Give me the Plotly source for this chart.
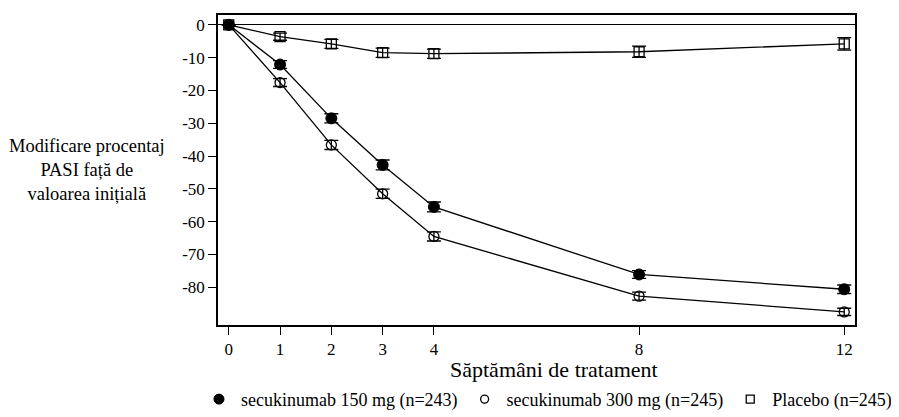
import plotly.graph_objects as go

weeks = [0, 1, 2, 3, 4, 8, 12]

sec150 = [0, -12.1, -28.5, -42.7, -55.5, -76.1, -80.6]
sec150_err = [0, 1.2, 1.4, 1.5, 1.5, 1.2, 1.3]

sec300 = [0, -17.6, -36.6, -51.5, -64.5, -82.7, -87.5]
sec300_err = [0, 1.2, 1.4, 1.4, 1.4, 1.2, 1.1]

placebo = [0, -3.6, -5.8, -8.5, -8.8, -8.2, -5.8]
placebo_err = [0, 1.1, 1.4, 1.4, 1.4, 1.7, 1.9]

names = ['secukinumab 150 mg (n=243)', 'secukinumab 300 mg (n=245)', 'Placebo (n=245)']

y_ticks = [0, -10, -20, -30, -40, -50, -60, -70, -80]
y_labels = ['0', '-10', '-20', '-30', '-40', '-50', '-60', '-70', '-80']

FONT = 'Liberation Serif, Times New Roman, serif'

series = [
    (sec150, sec150_err, dict(symbol='circle', size=11, color='black',
                              line=dict(color='black', width=1))),
    (sec300, sec300_err, dict(symbol='circle-open', size=10, color='black',
                              line=dict(color='black', width=1.3))),
    (placebo, placebo_err, dict(symbol='square-open', size=10, color='black',
                                line=dict(color='black', width=1.3))),
]

fig = go.Figure()

for vals, err, mk in series:
    fig.add_trace(go.Scatter(
        x=weeks, y=vals, mode='lines+markers',
        line=dict(color='black', width=1.3),
        marker=mk,
        error_y=dict(type='data', array=err, color='black', thickness=1.3, width=7),
        showlegend=False, hoverinfo='x+y'))

# legend-only entries (markers without lines)
for name, (vals, err, mk) in zip(names, series):
    fig.add_trace(go.Scatter(
        x=[None], y=[None], mode='markers', name=name,
        marker=dict(mk, size=10 if mk['symbol'] == 'circle' else 8)))

fig.update_xaxes(
    range=[-0.21, 12.21], tickvals=weeks, ticks='outside', ticklen=8,
    tickcolor='black', showline=True, linecolor='black', linewidth=1.5,
    mirror=True, showgrid=False, zeroline=False, automargin=False,
    tickfont=dict(family=FONT, size=17, color='black'))

fig.update_yaxes(
    range=[-91.5, 3.0], tickvals=y_ticks, ticktext=y_labels, ticks='outside',
    ticklen=8, tickcolor='black', showline=True, linecolor='black', linewidth=1.5,
    mirror=True, showgrid=False, zeroline=True, zerolinecolor='black', zerolinewidth=1.3,
    automargin=False,
    tickfont=dict(family=FONT, size=17, color='black'))

# x axis title sits right of centre, just under the tick labels
fig.add_annotation(
    text='Săptămâni de tratament',
    xref='paper', yref='paper', x=0.527, y=-0.143, xanchor='center', yanchor='middle',
    showarrow=False, font=dict(family=FONT, size=22, color='black'))

fig.add_annotation(
    text='Modificare procentaj<br>PASI față de<br>valoarea inițială',
    xref='paper', yref='paper', x=-0.206, y=0.5, xanchor='center', yanchor='middle',
    showarrow=False, align='center',
    font=dict(family=FONT, size=18.5, color='black'))

fig.update_layout(
    width=891, height=417,
    margin=dict(l=210, r=44, t=7, b=98),
    plot_bgcolor='white', paper_bgcolor='white',
    font=dict(family=FONT, color='black'),
    legend=dict(orientation='h', x=-0.033, y=-0.24, xanchor='left', yanchor='middle',
                font=dict(family=FONT, size=18, color='black'),
                itemwidth=34, tracegroupgap=0),
)

fig.write_html('out.html')
